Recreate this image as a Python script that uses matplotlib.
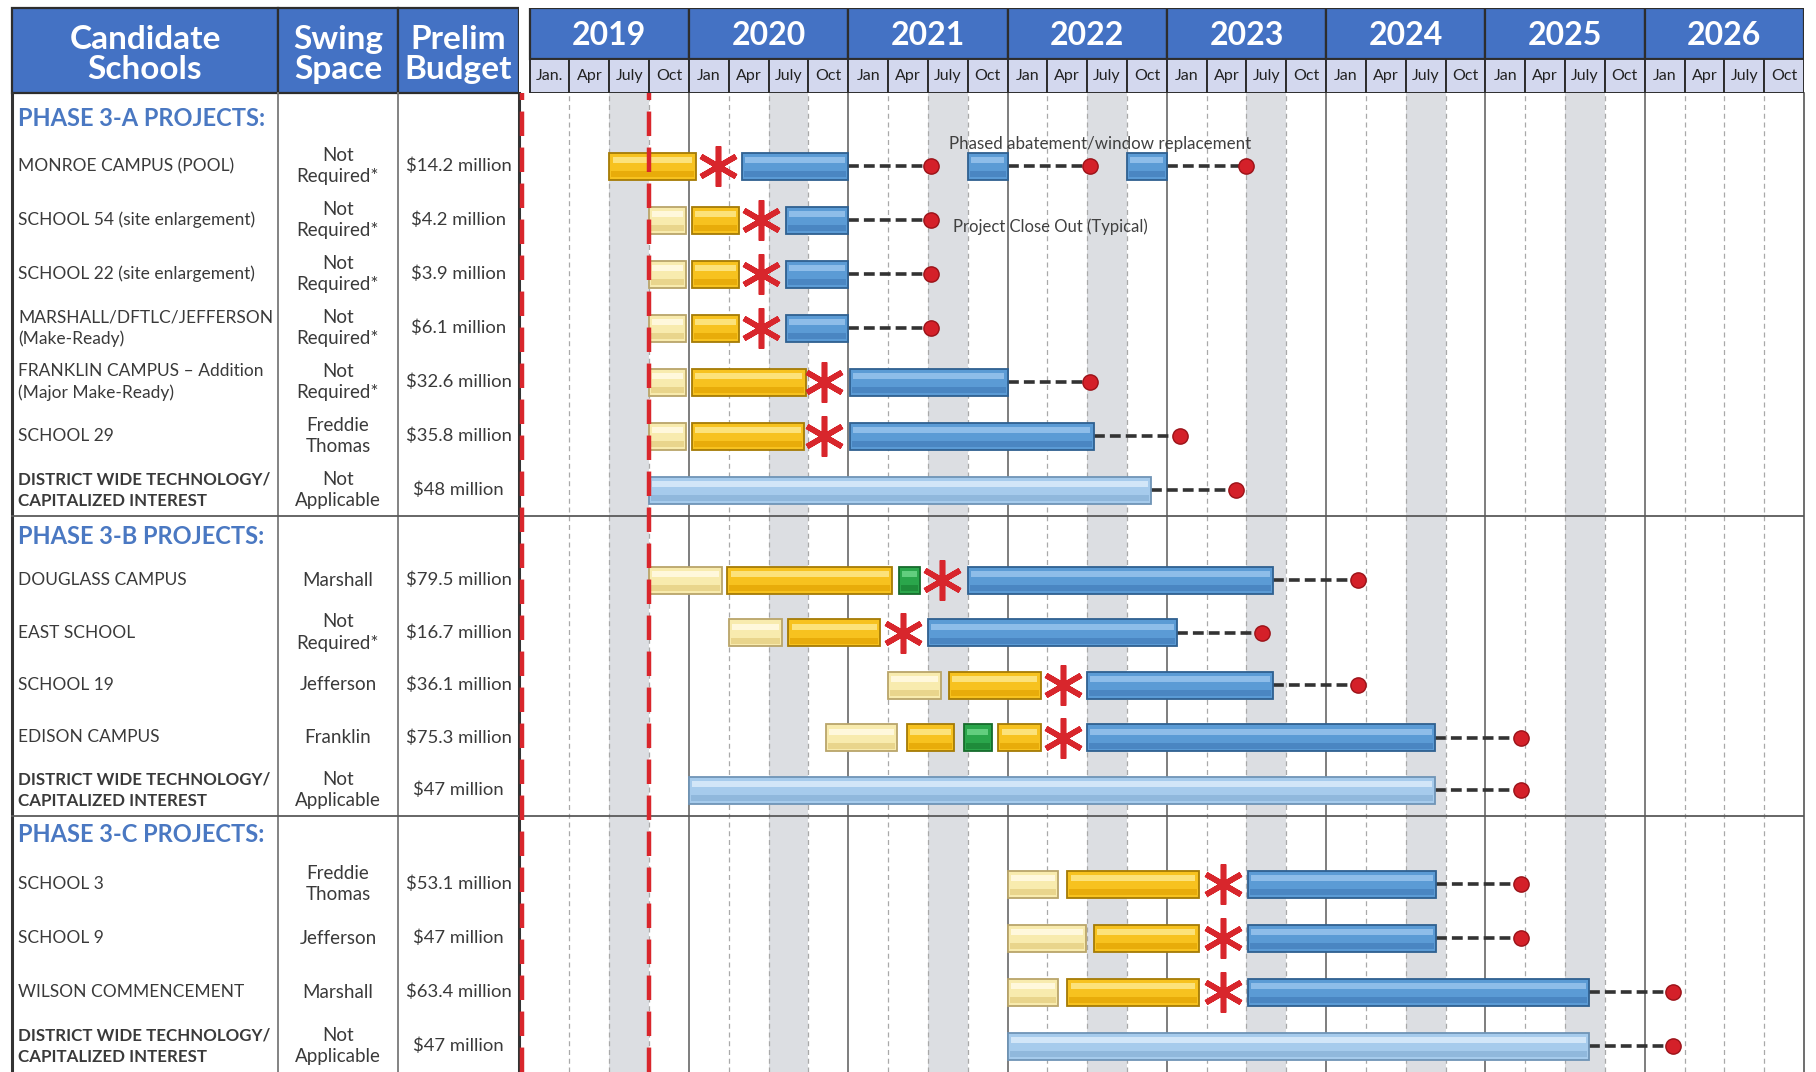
import matplotlib.pyplot as plt
from matplotlib.patches import Rectangle

plt.rcParams['font.family'] = ['Lato', 'DejaVu Sans']

# ---- data ----------------------------------------------------------------
years = [2019, 2020, 2021, 2022, 2023, 2024, 2025, 2026]
quarters = ["Jan", "Apr", "July", "Oct"]

phases = ["PHASE 3-A PROJECTS:", "PHASE 3-B PROJECTS:", "PHASE 3-C PROJECTS:"]
phase_of = [0, 0, 0, 0, 0, 0, 0, 1, 1, 1, 1, 1, 2, 2, 2, 2]

schools = [
    "MONROE CAMPUS (POOL)",
    "SCHOOL 54 (site enlargement)",
    "SCHOOL 22 (site enlargement)",
    "MARSHALL/DFTLC/JEFFERSON\n(Make-Ready)",
    "FRANKLIN CAMPUS \u2013 Addition\n(Major Make-Ready)",
    "SCHOOL 29",
    "DISTRICT WIDE TECHNOLOGY/\nCAPITALIZED INTEREST",
    "DOUGLASS CAMPUS",
    "EAST SCHOOL",
    "SCHOOL 19",
    "EDISON CAMPUS",
    "DISTRICT WIDE TECHNOLOGY/\nCAPITALIZED INTEREST",
    "SCHOOL 3",
    "SCHOOL 9",
    "WILSON COMMENCEMENT",
    "DISTRICT WIDE TECHNOLOGY/\nCAPITALIZED INTEREST",
]
swing = ["Not\nRequired*", "Not\nRequired*", "Not\nRequired*", "Not\nRequired*",
         "Not\nRequired*", "Freddie\nThomas", "Not\nApplicable",
         "Marshall", "Not\nRequired*", "Jefferson", "Franklin", "Not\nApplicable",
         "Freddie\nThomas", "Jefferson", "Marshall", "Not\nApplicable"]
budget = ["$14.2 million", "$4.2 million", "$3.9 million", "$6.1 million",
          "$32.6 million", "$35.8 million", "$48 million",
          "$79.5 million", "$16.7 million", "$36.1 million", "$75.3 million", "$47 million",
          "$53.1 million", "$47 million", "$63.4 million", "$47 million"]
district_rows = [6, 11, 15]

# schedule, in months counted from Jan 2019
design = [[], [(9, 11.8)], [(9, 11.8)], [(9, 11.8)], [(9, 11.8)], [(9, 11.8)], [],
          [(9, 14.5)], [(15, 19)], [(27, 31)], [(22.3, 27.7)], [],
          [(36, 39.8)], [(36, 41.9)], [(36, 39.8)], []]
bidding = [[(6, 12.5)], [(12.2, 15.8)], [(12.2, 15.8)], [(12.2, 15.8)], [(12.2, 20.8)],
           [(12.2, 20.7)], [],
           [(14.9, 27.3)], [(19.5, 26.4)], [(31.6, 38.5)], [(28.4, 32), (35.3, 38.5)], [],
           [(40.5, 50.4)], [(42.5, 50.4)], [(40.5, 50.4)], []]
swing_move = [[], [], [], [], [], [], [],
              [(27.8, 29.4)], [], [], [(32.7, 34.8)], [],
              [], [], [], []]
construction = [[(16, 24), (33, 36), (45, 48)], [(19.3, 24)], [(19.3, 24)], [(19.3, 24)],
                [(24.1, 36)], [(24.1, 42.5)], [],
                [(33, 56)], [(30, 48.8)], [(42, 56)], [(42, 68.2)], [],
                [(54.1, 68.3)], [(54.1, 68.3)], [(54.1, 79.8)], []]
technology = [[], [], [], [], [], [], [(9, 46.8)],
              [], [], [], [], [(12, 68.2)],
              [], [], [], [(36, 79.8)]]
award = [14.2, 17.4, 17.4, 17.4, 22.2, 22.2, None,
         31.1, 28.1, 40.2, 40.2, None,
         52.2, 52.2, 52.2, None]
closeout = [[30.2, 42.2, 54], [30.2], [30.2], [30.2], [42.2], [49], [53.2],
            [62.4], [55.2], [62.4], [74.7], [74.7],
            [74.7], [74.7], [86.1], [86.1]]
today_lines = [-0.55, 9]

# ---- layout (pixel units) -------------------------------------------------
W, H = 1816, 1072
body_top, head_top, head_mid = 93, 8, 59
x_left_month = -0.8
head_off = [26, 21, 19]
first_off = [73, 64, 68]
row_step = [54, 52.5, 54]
row_y, phase_y, sep_y = [], [], []
top = body_top
for p in range(len(phases)):
    phase_y.append(top + head_off[p])
    idx = [k for k, ph in enumerate(phase_of) if ph == p]
    for j in range(len(idx)):
        row_y.append(top + first_off[p] + j * row_step[p])
    top = row_y[-1] + 26
    sep_y.append(top)

fig = plt.figure(figsize=(W / 100, H / 100), dpi=100)

ax = fig.add_axes([519 / W, 0, (1804 - 519) / W, (H - body_top) / H])
hx = fig.add_axes([519 / W, (H - body_top) / H, (1804 - 519) / W, (body_top - head_top) / H])
tx = fig.add_axes([0, 0, 519 / W, 1])

# ---- timeline grid ----------------------------------------------------------
ax.set_xlim(x_left_month, 12 * len(years))
ax.set_ylim(H, body_top)
for i in range(len(years) - 1):
    ax.axvspan(12 * i + 6, 12 * i + 9, color='#DCDEE2', lw=0, zorder=0)
for m in range(3, 12 * len(years), 3):
    if m % 12:
        ax.axvline(m, color='#A9A9A9', lw=0.9, ls=(0, (4, 3)), zorder=0.5)
    else:
        ax.axvline(m, color='#5A5A5A', lw=1.1, zorder=0.6)
for s in sep_y[:-1]:
    ax.axhline(s, color='#5A5A5A', lw=1.3, zorder=0.6)
ax.set_xticks([])
ax.set_yticks([])
for side in ['top', 'bottom']:
    ax.spines[side].set_visible(False)
ax.spines['left'].set_linewidth(2.2)
ax.spines['left'].set_color('#333333')
ax.spines['right'].set_linewidth(1.2)
ax.spines['right'].set_color('#555555')

bar_h = 27


def draw_bars(segs, y, face, light, dark, edge):
    for a, b in segs:
        ax.barh(y, b - a, left=a, height=bar_h, color=face, edgecolor=edge,
                linewidth=1.3, zorder=3)
        ax.barh(y - bar_h * 0.22, b - a - 0.5, left=a + 0.25, height=bar_h * 0.22,
                color=light, linewidth=0, zorder=3.1)
        ax.barh(y + bar_h * 0.3, b - a - 0.3, left=a + 0.15, height=bar_h * 0.22,
                color=dark, linewidth=0, zorder=3.1)


for i, y in enumerate(row_y):
    draw_bars(design[i], y, '#F8EBAE', '#FFF8DC', '#E9D58C', '#B9A56A')
    draw_bars(bidding[i], y, '#F7C21F', '#FCE27A', '#E8AC0A', '#A57B05')
    draw_bars(swing_move[i], y, '#2AA64B', '#62CE7E', '#1E8C3A', '#176B2C')
    draw_bars(construction[i], y, '#5B9BD5', '#8EBDE9', '#4A86C2', '#2F6090')
    draw_bars(technology[i], y, '#A6CBEC', '#D2E6F8', '#90B8DC', '#6F94B6')
    ends = sorted(construction[i] + technology[i])[-len(closeout[i]):]
    for (a, b), d in zip(ends, closeout[i]):
        ax.plot([b, d], [y, y], color='#333333', lw=2.6, ls=(0, (3.0, 1.4)), zorder=2.5)
        ax.plot(d, y, 'o', ms=11, mfc='#D42029', mec='#9A1218', mew=1, zorder=4)
    if award[i] is not None:
        ax.plot(award[i], y, marker=(6, 2, 0), ms=29, mew=4, color='#D8262C',
                linestyle='none', zorder=4)

for m in today_lines:
    ax.axvline(m, color='#D9262C', lw=3.2, ls=(0, (5.5, 2.6)), zorder=5)

ax.text(31.6, row_y[0] - 22, "Phased abatement/window replacement", fontsize=12.2,
        color='#404040', va='center', ha='left', zorder=6)
ax.text(31.9, row_y[1] + 7, "Project Close Out (Typical)", fontsize=12,
        color='#404040', va='center', ha='left', zorder=6)

# ---- timeline header --------------------------------------------------------
hx.set_xlim(x_left_month, 12 * len(years))
hx.set_ylim(body_top, head_top)
hx.axis('off')
for i, yr in enumerate(years):
    x0 = max(12 * i, x_left_month)
    hx.add_patch(Rectangle((x0, head_top), 12 * (i + 1) - x0, head_mid - head_top,
                           facecolor='#4472C4', edgecolor='#2D2D2D', lw=1.6))
    hx.text((x0 + 12 * (i + 1)) / 2, (head_top + head_mid) / 2 + 2, str(yr),
            color='white', fontsize=23, fontweight='bold', ha='center', va='center')
    for q, lab in enumerate(quarters):
        q0 = max(12 * i + 3 * q, x_left_month)
        q1 = 12 * i + 3 * q + 3
        hx.add_patch(Rectangle((q0, head_mid), q1 - q0, body_top - head_mid,
                               facecolor='#D3D8EE', edgecolor='#2D2D2D', lw=1.4))
        hx.text((q0 + q1) / 2, (head_mid + body_top) / 2, lab + ('.' if i == 0 and q == 0 else ''),
                color='#222222', fontsize=11.5, ha='center', va='center')

# ---- left table -------------------------------------------------------------
tx.set_xlim(0, 519)
tx.set_ylim(H, 0)
tx.axis('off')
cols = [12, 278, 398, 519]
heads = ["Candidate\nSchools", "Swing\nSpace", "Prelim\nBudget"]
for c, lab in enumerate(heads):
    tx.add_patch(Rectangle((cols[c], head_top), cols[c + 1] - cols[c], body_top - head_top,
                           facecolor='#4472C4', edgecolor='#2D2D2D', lw=1.6))
    tx.text((cols[c] + cols[c + 1]) / 2, (head_top + body_top) / 2 + 4, lab, color='white',
            fontsize=24, fontweight='bold', ha='center', va='center', linespacing=1.05)
tx.plot([cols[0], cols[0]], [body_top, H], color='#333333', lw=2.2)
for c in cols[1:3]:
    tx.plot([c, c], [body_top, H], color='#7A7A7A', lw=1.3)
for s in sep_y[:-1]:
    tx.plot([cols[0], cols[3]], [s, s], color='#5A5A5A', lw=1.3)

for p, lab in enumerate(phases):
    tx.text(cols[0] + 6, phase_y[p], lab, color='#4A78C2', fontsize=17,
            fontweight='bold', ha='left', va='center')
for i, y in enumerate(row_y):
    wt = 'bold' if i in district_rows else 'normal'
    tx.text(cols[0] + 6, y, schools[i], color='#3A3A3A', fontsize=12.2 if wt == 'bold' else 12.5,
            fontweight=wt, ha='left', va='center', linespacing=1.4)
    tx.text((cols[1] + cols[2]) / 2, y, swing[i], color='#3A3A3A', fontsize=13.5,
            ha='center', va='center', linespacing=1.3)
    tx.text((cols[2] + cols[3]) / 2, y, budget[i], color='#3A3A3A', fontsize=13.3,
            ha='center', va='center')

fig.savefig('out.png', dpi=100)
